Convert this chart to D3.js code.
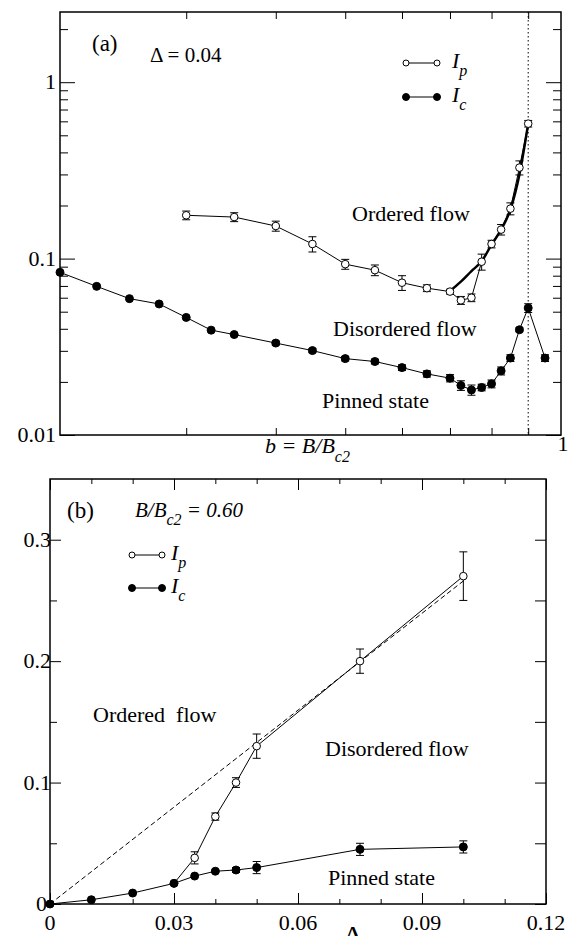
<!DOCTYPE html>
<meta charset="utf-8">
<style>
    body { margin: 0; background: #fff; }
    .frame { fill: none; stroke: #000; stroke-width: 1.5px; }
    .tick line { stroke: #000; stroke-width: 1px; }
    .series { fill: none; stroke: #000; stroke-width: 1px; }
    .fit { fill: none; stroke: #000; stroke-width: 2.5px; }
    .err { stroke: #000; stroke-width: 1px; }
</style>
<body>
<div id="chart"></div>
<script src="https://cdnjs.cloudflare.com/ajax/libs/d3/7.8.5/d3.min.js"></script>
<script>
    // ---- panel (a): Delta = 0.04, log-log ----
    var bIp  = [0.30, 0.35, 0.40, 0.45, 0.50, 0.55, 0.60, 0.65, 0.70, 0.725, 0.75, 0.775, 0.80, 0.825, 0.85, 0.875, 0.90];
    var ipA  = [0.176, 0.172, 0.153, 0.121, 0.093, 0.086, 0.073, 0.068, 0.065, 0.058, 0.060, 0.096, 0.121, 0.146, 0.192, 0.328, 0.582];
    var ipAE = [0.010, 0.010, 0.010, 0.012, 0.006, 0.006, 0.007, 0.003, 0.002, 0.003, 0.003, 0.010, 0.006, 0.010, 0.015, 0.030, 0.025];

    var bIc  = [0.20, 0.225, 0.25, 0.275, 0.30, 0.325, 0.35, 0.40, 0.45, 0.50, 0.55, 0.60, 0.65, 0.70, 0.725, 0.75, 0.775, 0.80, 0.825, 0.85, 0.875, 0.90, 0.95];
    var icA  = [0.0836, 0.0696, 0.0593, 0.0553, 0.0464, 0.0393, 0.0371, 0.0332, 0.0301, 0.0271, 0.0261, 0.0241, 0.0222, 0.0210, 0.0191, 0.0180, 0.0186, 0.0195, 0.0231, 0.0273, 0.0395, 0.0525, 0.0273];
    var icAE = [0, 0, 0, 0, 0, 0, 0, 0.0008, 0.0008, 0.0008, 0.0008, 0.0009, 0.0009, 0.0010, 0.0012, 0.0012, 0.0008, 0.0010, 0.0012, 0.0012, 0.0010, 0.0030, 0.0012];

    var bFit  = [0.70, 0.725, 0.75, 0.775, 0.80, 0.825, 0.85, 0.875, 0.90];
    var ipFit = [0.0655, 0.074, 0.085, 0.0965, 0.120, 0.146, 0.190, 0.300, 0.582];

    var bc2Line = 0.90;

    // ---- panel (b): B/Bc2 = 0.60, linear ----
    var dIp  = [0.03, 0.035, 0.04, 0.045, 0.05, 0.075, 0.10];
    var ipB  = [0.017, 0.038, 0.072, 0.100, 0.130, 0.200, 0.270];
    var ipBE = [0, 0.005, 0.003, 0.004, 0.010, 0.010, 0.020];

    var dIc  = [0, 0.01, 0.02, 0.03, 0.035, 0.04, 0.045, 0.05, 0.075, 0.10];
    var icB  = [0, 0.0035, 0.009, 0.017, 0.023, 0.027, 0.028, 0.030, 0.045, 0.047];
    var icBE = [0, 0, 0, 0, 0, 0.001, 0.002, 0.005, 0.005, 0.005];

    var dashD = [0, 0.10];
    var dashI = [0, 0.266];

    var xTicksB = [0, 0.03, 0.06, 0.09, 0.12];
    var yTicksB = [0, 0.1, 0.2, 0.3];

    var width = 568, height = 936;
    var serif = "'Liberation Serif', 'Times New Roman', 'DejaVu Serif', serif";

    var svg = d3.select("#chart").append("svg")
        .attr("width", width)
        .attr("height", height)
        .attr("font-family", serif);

    function zip(xs, ys, es) {
        return xs.map((x, i) => ({x: x, y: ys[i], e: es ? es[i] : 0}));
    }

    function drawSeries(g, data, x, y, filled, r) {
        var line = d3.line().x(d => x(d.x)).y(d => y(d.y));
        g.append("path").datum(data).attr("class", "series").attr("d", line);

        var eb = data.filter(d => d.e > 0);
        g.selectAll(null).data(eb).enter().append("line").attr("class", "err")
            .attr("x1", d => x(d.x)).attr("x2", d => x(d.x))
            .attr("y1", d => y(d.y - d.e)).attr("y2", d => y(d.y + d.e));
        [-1, 1].forEach(s => {
            g.selectAll(null).data(eb).enter().append("line").attr("class", "err")
                .attr("x1", d => x(d.x) - 4).attr("x2", d => x(d.x) + 4)
                .attr("y1", d => y(d.y + s * d.e)).attr("y2", d => y(d.y + s * d.e));
        });

        g.selectAll(null).data(data).enter().append("circle")
            .attr("cx", d => x(d.x)).attr("cy", d => y(d.y))
            .attr("r", r)
            .attr("fill", filled ? "#000" : "#fff")
            .attr("stroke", "#000").attr("stroke-width", 1);
    }

    function ticks(g, axis, transform, vals, size) {
        g.append("g").attr("transform", transform)
            .call(axis.tickValues(vals).tickSize(size).tickFormat(""))
            .call(a => a.select(".domain").remove());
    }

    function txt(g, x, y, size) {
        return g.append("text").attr("x", x).attr("y", y)
            .attr("font-family", serif).style("font-size", size + "px");
    }

    function legend(g, x0, x1, y, filled, sub, tx) {
        g.append("line").attr("x1", x0).attr("x2", x1).attr("y1", y).attr("y2", y)
            .attr("stroke", "#000").attr("stroke-width", 1);
        [x0, x1].forEach(x => g.append("circle").attr("cx", x).attr("cy", y).attr("r", filled ? 3.5 : 3)
            .attr("fill", filled ? "#000" : "#fff").attr("stroke", "#000"));
        var t = txt(g, tx, y + 5, 22).style("font-style", "italic");
        t.append("tspan").text("I");
        t.append("tspan").attr("dy", 8).style("font-size", "16px").text(sub);
    }

    function label(g, x, y, s, size) {
        txt(g, x, y, size || 22).text(s);
    }

    // ===== panel (a) =====
    var gA = svg.append("g");
    var xA = d3.scaleLog().domain([0.2, 1]).range([60, 561]);
    var yA = d3.scaleLog().domain([0.01, 2.5]).range([435, 12]);

    var yMajA = [0.01, 0.1, 1];
    var yMinA = [0.02, 0.03, 0.04, 0.05, 0.06, 0.07, 0.08, 0.09, 0.2, 0.3, 0.4, 0.5, 0.6, 0.7, 0.8, 0.9, 2];
    var xTickA = [0.3, 0.4, 0.5, 0.6, 0.7, 0.8, 0.9];

    ticks(gA, d3.axisRight(yA), "translate(60,0)", yMajA, 15);
    ticks(gA, d3.axisRight(yA), "translate(60,0)", yMinA, 8);
    ticks(gA, d3.axisLeft(yA), "translate(561,0)", yMajA, 15);
    ticks(gA, d3.axisLeft(yA), "translate(561,0)", yMinA, 8);
    ticks(gA, d3.axisTop(xA), "translate(0,435)", xTickA, 7);
    ticks(gA, d3.axisBottom(xA), "translate(0,12)", xTickA, 7);

    yMajA.forEach(d => txt(gA, 56, yA(d) + 7, 22).attr("text-anchor", "end").text(d3.format("~g")(d)));
    txt(gA, xA(1) + 2, 451, 22).attr("text-anchor", "middle").text("1");

    gA.append("line")
        .attr("x1", xA(bc2Line)).attr("x2", xA(bc2Line))
        .attr("y1", yA.range()[1]).attr("y2", yA.range()[0])
        .attr("stroke", "#000").attr("stroke-width", 1).attr("stroke-dasharray", "1.5,2.5");

    gA.append("path").datum(zip(bFit, ipFit)).attr("class", "fit")
        .attr("d", d3.line().x(d => xA(d.x)).y(d => yA(d.y)).curve(d3.curveMonotoneX));

    drawSeries(gA, zip(bIp, ipA, ipAE), xA, yA, false, 3.8);
    drawSeries(gA, zip(bIc, icA, icAE), xA, yA, true, 4);

    gA.append("rect").attr("class", "frame").attr("x", 60).attr("y", 12).attr("width", 501).attr("height", 423);

    label(gA, 92, 51, "(a)", 23);
    label(gA, 150, 62, "\u0394 = 0.04", 21);
    legend(gA, 406, 437, 63, false, "p", 452);
    legend(gA, 406, 437, 97, true, "c", 452);
    label(gA, 352, 221, "Ordered flow");
    label(gA, 333, 336, "Disordered flow");
    label(gA, 322, 408, "Pinned state");

    var xl = txt(gA, 265, 453, 22).style("font-style", "italic");
    xl.append("tspan").text("b = B/B");
    xl.append("tspan").attr("dy", 9).style("font-size", "16px").text("c2");

    // ===== panel (b) =====
    var gB = svg.append("g");
    var xB = d3.scaleLinear().domain([0, 0.12]).range([50, 546]);
    var yB = d3.scaleLinear().domain([0, 0.35]).range([904, 479]);

    var xMinB = d3.range(1, 12).map(i => i / 100).filter(v => Math.abs(v * 100 % 3) > 1e-6);
    var yMinB = [0.05, 0.15, 0.25];

    ticks(gB, d3.axisTop(xB), "translate(0,904)", xTicksB, 11);
    ticks(gB, d3.axisTop(xB), "translate(0,904)", xMinB, 5);
    ticks(gB, d3.axisBottom(xB), "translate(0,479)", xTicksB, 11);
    ticks(gB, d3.axisBottom(xB), "translate(0,479)", xMinB, 5);
    ticks(gB, d3.axisRight(yB), "translate(50,0)", yTicksB, 11);
    ticks(gB, d3.axisRight(yB), "translate(50,0)", yMinB, 7);
    ticks(gB, d3.axisLeft(yB), "translate(546,0)", yTicksB, 11);
    ticks(gB, d3.axisLeft(yB), "translate(546,0)", yMinB, 11);

    xTicksB.forEach(d => txt(gB, xB(d), 930, 22).attr("text-anchor", "middle").text(d3.format("~g")(d)));
    yTicksB.forEach(d => txt(gB, d === 0 ? 47 : 51, yB(d) + 7, 22).attr("text-anchor", "end").text(d3.format("~g")(d)));
    txt(gB, 353, 946, 30).attr("text-anchor", "middle").text("\u0394");

    gB.append("path").datum(zip(dashD, dashI)).attr("class", "series")
        .attr("stroke-dasharray", "5,3")
        .attr("d", d3.line().x(d => xB(d.x)).y(d => yB(d.y)));

    drawSeries(gB, zip(dIp, ipB, ipBE), xB, yB, false, 3.8);
    drawSeries(gB, zip(dIc, icB, icBE), xB, yB, true, 4);

    gB.append("rect").attr("class", "frame").attr("x", 50).attr("y", 479).attr("width", 496).attr("height", 425);

    label(gB, 67, 518, "(b)", 23);
    var bl = txt(gB, 135, 517, 21).style("font-style", "italic");
    bl.append("tspan").text("B/B");
    bl.append("tspan").attr("dy", 8).style("font-size", "16px").text("c2");
    bl.append("tspan").attr("dy", -8).text(" = 0.60");
    legend(gB, 132, 162, 555, false, "p", 171);
    legend(gB, 132, 162, 588, true, "c", 171);
    label(gB, 93, 722, "Ordered\u00a0 flow");
    label(gB, 325, 756, "Disordered flow");
    label(gB, 328, 885, "Pinned state");
</script>
</body>
